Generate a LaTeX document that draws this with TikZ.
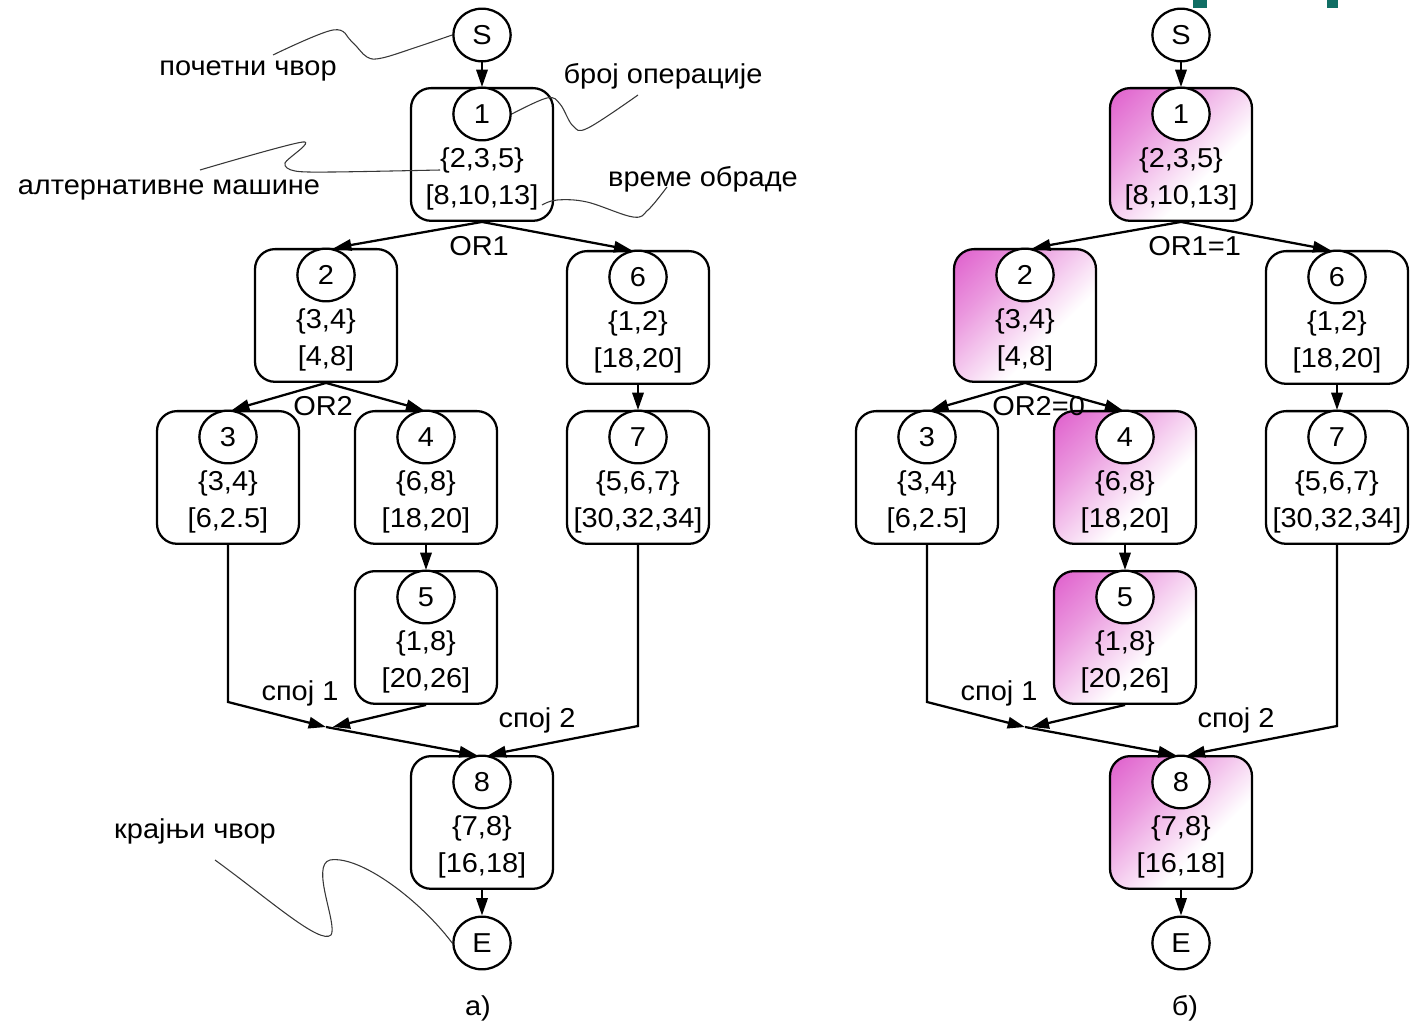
\documentclass[tikz,border=0pt]{standalone}
\usepackage{fontspec}
\setmainfont{Liberation Sans}[FakeStretch=1.06]
\usetikzlibrary{arrows.meta,shapes.geometric}
\definecolor{mag}{RGB}{214,50,190}
\definecolor{tealmark}{RGB}{16,110,100}
\definecolor{leadc}{RGB}{55,55,55}
\pgfdeclareverticalshading{magfade}{100bp}{color(0bp)=(white); color(38bp)=(white); color(66bp)=(mag!50); color(100bp)=(mag)}
\newcommand\opbx[7][]{%
  \node[opb,#1,anchor=north] (#2) at (#3,#4) {};
  \node[circ] (#2c) at (#3,#4+27) {#5};
  \node[txt] (#2s) at (#3,#4+73) {#6};
  \node[txt] (#2t) at (#3,#4+110) {#7};
}
\newcommand\fullplan[3]{%
  \node[circ] (S) at (482,35) {S};
  \opbx[#1]{b1}{482}{87}{1}{\{2,3,5\}}{[8,10,13]}
  \opbx[#1]{b2}{326}{248}{2}{\{3,4\}}{[4,8]}
  \opbx{b6}{638}{250}{6}{\{1,2\}}{[18,20]}
  \opbx{b3}{228}{410}{3}{\{3,4\}}{[6,2.5]}
  \opbx[#1]{b4}{426}{410}{4}{\{6,8\}}{[18,20]}
  \opbx{b7}{638}{410}{7}{\{5,6,7\}}{[30,32,34]}
  \opbx[#1]{b5}{426}{570}{5}{\{1,8\}}{[20,26]}
  \opbx[#1]{b8}{482}{755}{8}{\{7,8\}}{[16,18]}
  \node[circ] (E) at (482,943) {E};
  \draw[conn] (S.south) -- (b1.north);
  \draw[conn] (b1.south) -- ([xshift=6pt]b2.north);
  \draw[conn] (b1.south) -- ([xshift=-5pt]b6.north);
  \draw[conn] (b2.south) -- ([xshift=3pt]b3.north);
  \draw[conn] (b2.south) -- ([xshift=-2pt]b4.north);
  \draw[conn] (b6.south) -- (b7.north);
  \draw[conn] (b4.south) -- (b5.north);
  \coordinate (k1) at (228,702);
  \coordinate (j1) at (326,727);
  \coordinate (k2) at (638,726);
  \draw[conn] (b3.south) -- (k1) -- (j1);
  \draw[conn] (b5.south) -- ([xshift=5pt]j1);
  \draw[conn] (j1) -- ([xshift=-4pt]b8.north);
  \draw[conn] (b7.south) -- (k2) -- ([xshift=5pt]b8.north);
  \draw[conn] (b8.south) -- (E.north);
  \node[txt,anchor=west] (or1) at (449,246) {#2};
  \node[txt,anchor=west] (or2) at (293,406) {#3};
  \node[txt] (sp1) at (300,693) {спој 1};
  \node[txt] (sp2) at (537,720) {спој 2};
}
\begin{document}
\begin{tikzpicture}[x=0.75pt,y=-0.75pt,
  opb/.style={draw,line width=1.7pt,rounded corners=15pt,minimum width=106.5pt,minimum height=99.5pt,fill=white,inner sep=0pt},
  circ/.style={draw,ellipse,line width=1.7pt,fill=white,minimum width=43pt,minimum height=39.5pt,inner sep=0pt,font=\fontsize{20.5}{24}\selectfont},
  txt/.style={inner sep=0pt,font=\fontsize{20.5}{24}\selectfont},
  conn/.style={line width=1.7pt,-{Triangle[length=13pt,width=8.5pt]}},
  lead/.style={draw=leadc,line width=0.8pt},
  hl/.style={shading=magfade,shading angle=45}]
\useasboundingbox (0,0) rectangle (1424,1023);
\fill[tealmark] (1193,0) rectangle (1207,8);
\fill[tealmark] (1327,0) rectangle (1338,8);
\begin{scope}[name prefix=L-]
  \fullplan{}{OR1}{OR2}
\end{scope}
\begin{scope}[shift={(699,0)},name prefix=R-]
  \fullplan{hl}{OR1=1}{OR2=0}
\end{scope}
% annotations
\node[txt] (lab1) at (248,71) {почетни чвор};
\node[txt] (lab2) at (169,190) {алтернативне машине};
\node[txt] (lab3) at (663,76) {број операције};
\node[txt] (lab4) at (703,179) {време обраде};
\node[txt] (lab5) at (195,831) {крајњи чвор};
\draw[lead] plot[smooth,tension=0.6] coordinates {(273,55) (333,30) (352,42) (367,57) (382,58) (417,47) (L-S.west)};
\draw[lead] plot[smooth,tension=0.5] coordinates {(200,170) (303,142) (285,163) (295,171) (333,172) (440,170)};
\draw[lead] plot[smooth,tension=0.6] coordinates {(L-b1c.east) (547,98) (560,104) (573,126) (588,128) (638,95)};
\draw[lead] plot[smooth,tension=0.6] coordinates {(542,205) (557,200) (587,202) (633,217) (648,210) (667,187)};
\draw[lead] (215,860) .. controls (270,900) and (320,945) .. (331,935) .. controls (338,925) and (310,865) .. (330,860) .. controls (360,855) and (420,900) .. (L-E.west);
\node[txt] (cap1) at (478,1008) {а)};
\node[txt] (cap2) at (1185,1008) {б)};
\end{tikzpicture}
\end{document}
